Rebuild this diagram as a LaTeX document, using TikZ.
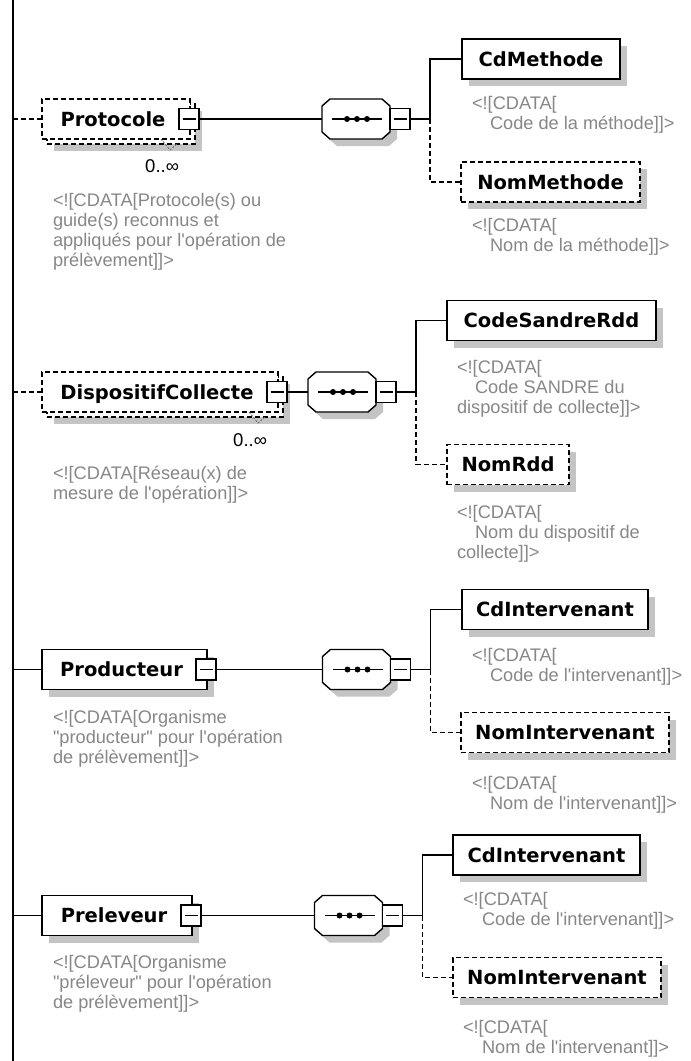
\documentclass[tikz,border=0pt]{standalone}
\usepackage{fontspec}
\setmainfont{DejaVu Sans}
\newfontfamily\descfont{Liberation Sans}
\usetikzlibrary{shadows}
\definecolor{descgray}{RGB}{135,135,135}
\definecolor{shadowgray}{RGB}{196,196,196}
\definecolor{cardgray}{RGB}{110,110,110}

% octagon path of a sequence compositor, centred on (#1,#2)
\newcommand\octapath[2]{({#1-26},{#2+20}) -- ({#1+26},{#2+20}) -- ({#1+34},{#2+13}) -- ({#1+34},{#2-13}) -- ({#1+26},{#2-20}) -- ({#1-26},{#2-20}) -- ({#1-34},{#2-13}) -- ({#1-34},{#2+13}) -- cycle}
% sequence compositor: name, x, y
\newcommand\seqcomp[3]{%
  \fill[shadowgray] \octapath{#2+7}{#3-7};
  \draw[fill=white] \octapath{#2}{#3};
  \node[seqbox] (#1) at (#2,#3) {};
  \draw[line width=1.3pt] ({#2-24},#3) -- ({#2+26},#3);
  \fill ({#2-9},#3) circle (3);
  \fill ({#2+1},#3) circle (3);
  \fill ({#2+11},#3) circle (3);
  \node[btn, anchor=west] (#1b) at (#1.east) {};
}

\begin{document}
\begin{tikzpicture}[x=1pt,y=1pt,
  line width=1.4pt,
  every node/.style={inner sep=0pt, outer sep=0pt},
  elem/.style={draw, fill=white, rectangle, minimum height=40pt, text height=14pt, text depth=0pt, font=\fontsize{19.5}{22}\selectfont\bfseries},
  shad/.style={drop shadow={shadow xshift=7pt, shadow yshift=-7pt, fill=shadowgray, opacity=1}},
  opt/.style={dash pattern=on 5pt off 3pt},
  btn/.style={draw, fill=white, rectangle, minimum width=20pt, minimum height=21pt,
    path picture={\draw[line width=1.1pt] ([xshift=-6.5pt]path picture bounding box.center) -- ([xshift=6.5pt]path picture bounding box.center);}},
  desc/.style={anchor=base west, text=descgray, font=\descfont\fontsize{18.2}{20}\selectfont},
  card/.style={anchor=base east, font=\descfont\fontsize{18.5}{20}\selectfont},
  cardmark/.style={draw=cardgray, line width=0.9pt, dash pattern=on 2pt off 1.5pt},
  seqbox/.style={minimum width=68pt, minimum height=40pt},
]
\useasboundingbox (0,0) rectangle (691,-1061);
\fill[white] (0,0) rectangle (691,-1061);

% trunk
\coordinate (trunktop) at (13,0);
\coordinate (trunkbot) at (13,-1061);
\draw (trunktop) -- (trunkbot);

% ---------------- Row 1 : Protocole ----------------
\node[elem, opt, shad, minimum width=148pt] (protback) at (121,-124) {};
\node[elem, opt, minimum width=148pt] (prot) at (116,-119) {Protocole\kern6pt};
\draw[cardmark] ([xshift=-29pt]prot.south east) -- ([xshift=-20pt,yshift=-11pt]prot.south east) -- ([xshift=-13pt,yshift=-5pt]prot.south east);
\node[btn] (protbtn) at ([xshift=-1pt]prot.east) {};
\node[card] (protcard) at (179,-172) {0..∞};
\seqcomp{seqa}{356}{-119}
\coordinate (ja) at ([xshift=20pt]seqab.east);
\node[elem, shad, minimum width=158pt] (cdmeth) at (541,-59) {CdMethode};
\node[elem, opt, shad, minimum width=179pt] (nommeth) at (550.5,-182) {NomMethode};
\draw[opt] (prot.west -| trunktop) -- (prot.west);
\draw (protbtn.east) -- (seqa.west);
\draw (seqab.east) -- (ja) |- (cdmeth.west);
\draw[opt] (ja) |- (nommeth.west);
\node[desc] (protd1) at (53,-206) {<![CDATA[Protocole(s) ou};
\node[desc] (protd2) at (53,-226) {guide(s) reconnus et};
\node[desc] (protd3) at (53,-246) {appliqués pour l'opération de};
\node[desc] (protd4) at (53,-266) {prélèvement]]>};
\node[desc] (cdmethd1) at (472,-109) {<![CDATA[};
\node[desc] (cdmethd2) at (490,-129) {Code de la méthode]]>};
\node[desc] (nommethd1) at (472,-231) {<![CDATA[};
\node[desc] (nommethd2) at (490,-251) {Nom de la méthode]]>};

% ---------------- Row 2 : DispositifCollecte ----------------
\node[elem, opt, shad, minimum width=236pt] (dispback) at (165,-397) {};
\node[elem, opt, minimum width=236pt] (disp) at (160,-392) {DispositifCollecte\kern6pt};
\draw[cardmark] ([xshift=-29pt]disp.south east) -- ([xshift=-20pt,yshift=-11pt]disp.south east) -- ([xshift=-13pt,yshift=-5pt]disp.south east);
\node[btn] (dispbtn) at ([xshift=-1pt]disp.east) {};
\node[card] (dispcard) at (267,-446) {0..∞};
\seqcomp{seqb}{342}{-392}
\coordinate (jb) at ([xshift=20pt]seqbb.east);
\node[elem, shad, minimum width=209pt] (codesandre) at (551.5,-320.5) {CodeSandreRdd};
\node[elem, opt, shad, minimum width=122pt] (nomrdd) at (508,-464.5) {NomRdd};
\draw[opt] (disp.west -| trunktop) -- (disp.west);
\draw (dispbtn.east) -- (seqb.west);
\draw (seqbb.east) -- (jb) |- (codesandre.west);
\draw[opt] (jb) |- (nomrdd.west);
\node[desc] (dispd1) at (53,-479) {<![CDATA[Réseau(x) de};
\node[desc] (dispd2) at (53,-499) {mesure de l'opération]]>};
\node[desc] (csd1) at (457,-373) {<![CDATA[};
\node[desc] (csd2) at (475,-393) {Code SANDRE du};
\node[desc] (csd3) at (457,-413) {dispositif de collecte]]>};
\node[desc] (nrd1) at (457,-518) {<![CDATA[};
\node[desc] (nrd2) at (475,-538) {Nom du dispositif de};
\node[desc] (nrd3) at (457,-558) {collecte]]>};

% ---------------- Row 3 : Producteur ----------------
\node[elem, shad, minimum width=165pt] (prod) at (124.5,-669.5) {Producteur\kern6pt};
\node[btn] (prodbtn) at ([xshift=-1pt]prod.east) {};
\seqcomp{seqc}{356.5}{-669.5}
\coordinate (jc) at ([xshift=20pt]seqcb.east);
\node[elem, shad, minimum width=186pt] (cdinta) at (555,-609.5) {CdIntervenant};
\node[elem, opt, shad, minimum width=208pt] (nominta) at (565,-732.5) {NomIntervenant};
\draw (prod.west -| trunktop) -- (prod.west);
\draw (prodbtn.east) -- (seqc.west);
\draw (seqcb.east) -- (jc) |- (cdinta.west);
\draw[opt] (jc) |- (nominta.west);
\node[desc] (prodd1) at (53,-723) {<![CDATA[Organisme};
\node[desc] (prodd2) at (53,-743) {"producteur" pour l'opération};
\node[desc] (prodd3) at (53,-763) {de prélèvement]]>};
\node[desc] (cdintad1) at (472,-661) {<![CDATA[};
\node[desc] (cdintad2) at (490,-681) {Code de l'intervenant]]>};
\node[desc] (nomintad1) at (472,-789) {<![CDATA[};
\node[desc] (nomintad2) at (490,-809) {Nom de l'intervenant]]>};

% ---------------- Row 4 : Preleveur ----------------
\node[elem, shad, minimum width=150pt] (prel) at (117,-915.5) {Preleveur\kern6pt};
\node[btn] (prelbtn) at ([xshift=-1pt]prel.east) {};
\seqcomp{seqd}{348.5}{-915.5}
\coordinate (jd) at ([xshift=20pt]seqdb.east);
\node[elem, shad, minimum width=187pt] (cdintb) at (546.5,-855) {CdIntervenant};
\node[elem, opt, shad, minimum width=208pt] (nomintb) at (557,-977.5) {NomIntervenant};
\draw (prel.west -| trunktop) -- (prel.west);
\draw (prelbtn.east) -- (seqd.west);
\draw (seqdb.east) -- (jd) |- (cdintb.west);
\draw[opt] (jd) |- (nomintb.west);
\node[desc] (preld1) at (53,-968) {<![CDATA[Organisme};
\node[desc] (preld2) at (53,-988) {"préleveur" pour l'opération};
\node[desc] (preld3) at (53,-1008) {de prélèvement]]>};
\node[desc] (cdintbd1) at (463,-905) {<![CDATA[};
\node[desc] (cdintbd2) at (482,-925) {Code de l'intervenant]]>};
\node[desc] (nomintbd1) at (463,-1033) {<![CDATA[};
\node[desc] (nomintbd2) at (482,-1053) {Nom de l'intervenant]]>};
\end{tikzpicture}
\end{document}
